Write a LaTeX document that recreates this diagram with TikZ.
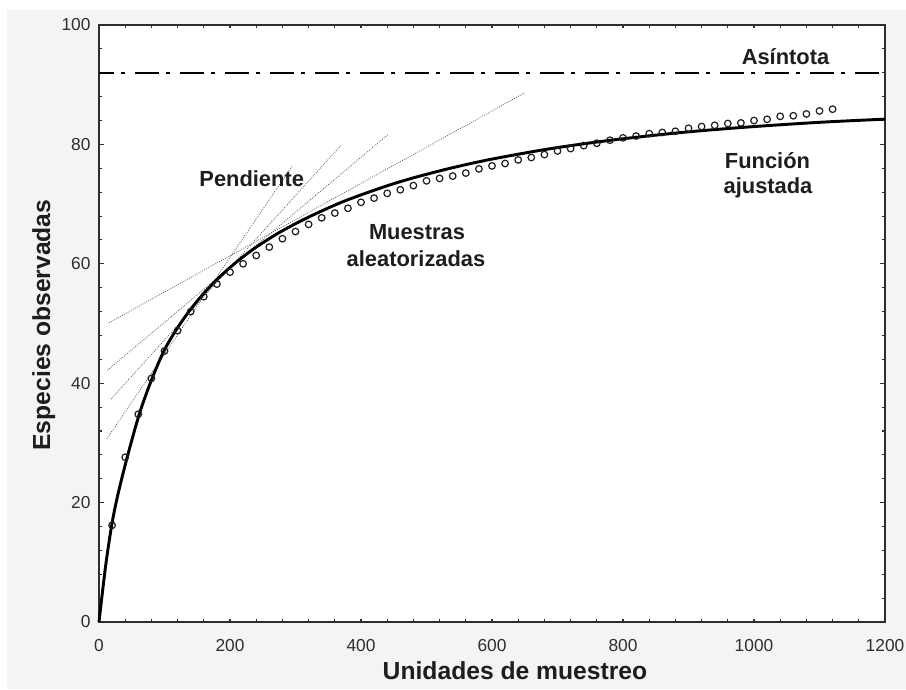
\documentclass[tikz,border=0pt]{standalone}
\usepackage{fontspec}
\setmainfont{Liberation Sans}

\definecolor{bggray}{HTML}{F4F4F4}
\definecolor{axisgray}{HTML}{2E2E2E}
\definecolor{tangentgray}{HTML}{5A5A5A}
\definecolor{inkblack}{HTML}{1E1E1E}

\newcommand{\ticksize}{\fontsize{13}{15}\selectfont}
\newcommand{\labelsize}{\fontsize{16.4}{20}\selectfont\bfseries}
\newcommand{\titlesize}{\fontsize{18.5}{22}\selectfont\bfseries}

\tikzset{every picture/.style={line width=0.75pt}}
\tikzset{
  tick label/.style={inner sep=0pt, font=\ticksize, text=axisgray},
  curve label/.style={inner sep=0pt, anchor=base, font=\labelsize, text=inkblack},
  axis title/.style={inner sep=0pt, anchor=base, font=\titlesize, text=inkblack},
  tangent/.style={draw=tangentgray, line width=0.6pt, densely dotted},
  sample/.style={draw=inkblack, line width=0.9pt},
  fitted/.style={draw=black, line width=2.2pt, line join=round},
  asymptote/.style={draw=black, line width=1.5pt, dash pattern=on 18pt off 5.25pt on 3pt off 7.5pt, dash phase=6.75pt}
}

\begin{document}
\begin{tikzpicture}[x=0.75pt,y=0.75pt,yscale=-1,xscale=1]
\useasboundingbox (0,0) rectangle (906,689);

%Shape: Rectangle [background]
\fill [white] (0,0) rectangle (906,689) ;
\fill [bggray] (7,10) rectangle (906,689) ;
%Shape: Rectangle [plot area]
\fill [white] (99,25) rectangle (885,622) ;

%Straight Lines [ticks, y]
\foreach \v in {0,4,...,100} {
  \draw [axisgray, line width=0.8pt] (99,{622-5.97*\v}) -- (102,{622-5.97*\v}) ;
  \draw [axisgray, line width=0.8pt] (885,{622-5.97*\v}) -- (882,{622-5.97*\v}) ;
}
\foreach \v in {0,20,...,100} {
  \draw [axisgray, line width=0.8pt] (99,{622-5.97*\v}) -- (104,{622-5.97*\v}) ;
  \draw [axisgray, line width=0.8pt] (885,{622-5.97*\v}) -- (880,{622-5.97*\v}) ;
}
%Straight Lines [ticks, x]
\foreach \n in {0,40,...,1200} {
  \draw [axisgray, line width=0.8pt] ({99+0.655*\n},622) -- ({99+0.655*\n},619) ;
  \draw [axisgray, line width=0.8pt] ({99+0.655*\n},25) -- ({99+0.655*\n},28) ;
}

%Shape: Rectangle [frame]
\draw [axisgray, line width=1.1pt] (99,25) rectangle (885,622) ;

%Straight Lines [asymptote]
\draw [asymptote] (99,72.8) -- (885,72.8) ;

%Straight Lines [slopes]
\draw [tangent] (106.7,439) -- (291.7,166.7) ;
\draw [tangent] (111,399) -- (340.7,145.7) ;
\draw [tangent] (107.7,370) -- (388.3,134.3) ;
\draw [tangent] (109,322.7) -- (525,92.7) ;

%Curve Lines [fitted function]
\draw [fitted] plot [smooth, tension=0.5] coordinates {
  ({99+0.655*0},{622-5.97*0})
  ({99+0.655*10},{622-5.97*9.3})
  ({99+0.655*20},{622-5.97*16.6})
  ({99+0.655*30},{622-5.97*21.9})
  ({99+0.655*45},{622-5.97*28.4})
  ({99+0.655*62.6},{622-5.97*35.2})
  ({99+0.655*81.4},{622-5.97*40.9})
  ({99+0.655*100},{622-5.97*45.6})
  ({99+0.655*120},{622-5.97*49.3})
  ({99+0.655*140},{622-5.97*52.4})
  ({99+0.655*160},{622-5.97*55.05})
  ({99+0.655*180},{622-5.97*57.36})
  ({99+0.655*200},{622-5.97*59.38})
  ({99+0.655*220},{622-5.97*61.18})
  ({99+0.655*240},{622-5.97*62.79})
  ({99+0.655*270},{622-5.97*64.9})
  ({99+0.655*300},{622-5.97*66.72})
  ({99+0.655*332},{622-5.97*68.45})
  ({99+0.655*370},{622-5.97*70.3})
  ({99+0.655*404},{622-5.97*71.7})
  ({99+0.655*445},{622-5.97*73.25})
  ({99+0.655*485},{622-5.97*74.55})
  ({99+0.655*540},{622-5.97*76.1})
  ({99+0.655*600},{622-5.97*77.54})
  ({99+0.655*690},{622-5.97*79.3})
  ({99+0.655*785},{622-5.97*80.75})
  ({99+0.655*890},{622-5.97*82.0})
  ({99+0.655*989},{622-5.97*82.9})
  ({99+0.655*1100},{622-5.97*83.7})
  ({99+0.655*1200},{622-5.97*84.23})
} ;

%Shape: Circle [randomized samples]
\foreach \n/\v in {20/16.2, 40/27.6, 60/34.8, 80/40.8, 100/45.4, 120/48.8, 140/52.0, 160/54.5, 180/56.6, 200/58.6, 220/60.0, 240/61.4, 260/62.8, 280/64.2, 300/65.4, 320/66.6, 340/67.7, 360/68.5, 380/69.3, 400/70.3, 420/71.0, 440/71.8, 460/72.4, 480/73.1, 500/73.9, 520/74.3, 540/74.7, 560/75.2, 580/75.9, 600/76.4, 620/76.8, 640/77.4, 660/77.8, 680/78.3, 700/78.9, 720/79.3, 740/79.8, 760/80.2, 780/80.7, 800/81.1, 820/81.4, 840/81.8, 860/82.0, 880/82.2, 900/82.7, 920/83.0, 940/83.2, 960/83.5, 980/83.6, 1000/84.0, 1020/84.2, 1040/84.7, 1060/84.8, 1080/85.1, 1100/85.6, 1120/85.9}
  \draw [sample] ({99+0.655*\n},{622-5.97*\v}) circle (3.3) ;

% Text Node [tick labels]
\foreach \v in {0,20,...,100}
  \draw (91,{622-5.97*\v}) node [anchor=east] [tick label] (ylab\v) {\v};
\foreach \n in {0,200,...,1200}
  \draw ({99+0.655*\n},639) node [anchor=north] [tick label] (xlab\n) {\n};

% Text Node
\draw (515,679) node [axis title] (xtitle) {Unidades de muestreo};
% Text Node
\draw (50,325) node [axis title] [rotate=90] (ytitle) {Especies observadas};
% Text Node
\draw (785.5,64.3) node [curve label] (asintota) {Asíntota};
% Text Node
\draw (251.7,186.7) node [curve label] (pendiente) {Pendiente};
% Text Node
\draw (417,239.3) node [curve label] (muestras) {Muestras};
% Text Node
\draw (416,266.7) node [curve label] (aleatorizadas) {aleatorizadas};
% Text Node
\draw (767.5,168.3) node [curve label] (funcion) {Función};
% Text Node
\draw (768,193.3) node [curve label] (ajustada) {ajustada};

\end{tikzpicture}
\end{document}
